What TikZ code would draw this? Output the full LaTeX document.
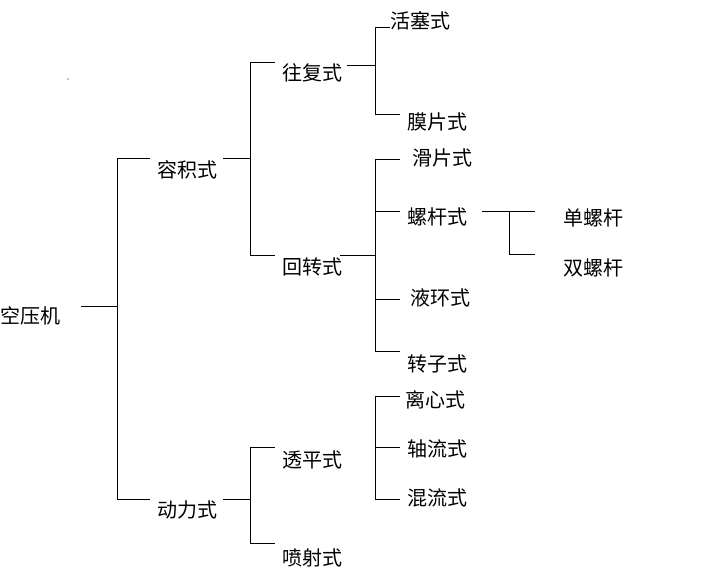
\documentclass[tikz,border=0pt]{standalone}
\usepackage{fontspec}
\newfontfamily\cjk{Noto Sans CJK SC}
\begin{document}
\begin{tikzpicture}[x=1pt,y=-1pt,
  lbl/.style={anchor=west,inner sep=0pt,font=\cjk\fontsize{20}{20}\selectfont},
  conn/.style={line width=0.9pt,black}]
\useasboundingbox (0,0) rectangle (715,581);
% labels
\node[lbl] (kyj) at (0,316) {空压机};
\node[lbl] (rjs) at (157,170) {容积式};
\node[lbl] (dls) at (157,510) {动力式};
\node[lbl] (wfs) at (282,73) {往复式};
\node[lbl] (hzs) at (282,267) {回转式};
\node[lbl] (tps) at (282,460) {透平式};
\node[lbl] (pss) at (282,558) {喷射式};
\node[lbl] (hss) at (390,21) {活塞式};
\node[lbl] (mps) at (407,122) {膜片式};
\node[lbl] (hps) at (412,158) {滑片式};
\node[lbl] (lgs) at (407,217) {螺杆式};
\node[lbl] (dlg) at (563,218) {单螺杆};
\node[lbl] (slg) at (563,268) {双螺杆};
\node[lbl] (yhs) at (410,298) {液环式};
\node[lbl] (zzs) at (407,364) {转子式};
\node[lbl] (lxs) at (405,400) {离心式};
\node[lbl] (zls) at (407,449) {轴流式};
\node[lbl] (hls) at (407,498) {混流式};
% junction coordinates
\coordinate (a0) at (81,306);
\coordinate (a1) at (117,306);
\coordinate (a1t) at (117,158);
\coordinate (a1b) at (117,499);
\coordinate (rjL) at (150,158);
\coordinate (dlL) at (150,499);
\coordinate (rjR) at (223,158);
\coordinate (b1) at (250,158);
\coordinate (b1t) at (250,62);
\coordinate (b1b) at (250,255);
\coordinate (wfL) at (275,62);
\coordinate (hzL) at (275,255);
\coordinate (wfR) at (347,65);
\coordinate (c1) at (375,65);
\coordinate (c1t) at (375,27);
\coordinate (c1b) at (375,114);
\coordinate (hsL) at (390,27);
\coordinate (mpL) at (400,114);
\coordinate (hzR) at (340,255);
\coordinate (c2) at (375,255);
\coordinate (c2t) at (375,159);
\coordinate (c2m) at (375,211);
\coordinate (c2n) at (375,299);
\coordinate (c2b) at (375,351);
\coordinate (hpL) at (400,159);
\coordinate (lgL) at (400,211);
\coordinate (yhL) at (400,299);
\coordinate (zzL) at (400,351);
\coordinate (lgR) at (482,211);
\coordinate (d1) at (509,211);
\coordinate (d1b) at (509,254);
\coordinate (dlgL) at (535,211);
\coordinate (slgL) at (535,254);
\coordinate (dlR) at (223,499);
\coordinate (b2) at (250,499);
\coordinate (b2t) at (250,447);
\coordinate (b2b) at (250,543);
\coordinate (tpL) at (275,447);
\coordinate (psL) at (275,543);
\coordinate (c3t) at (375,396);
\coordinate (c3m) at (375,447);
\coordinate (c3b) at (375,499);
\coordinate (lxL) at (400,396);
\coordinate (zlL) at (400,447);
\coordinate (hlL) at (400,499);
% connectors
\draw[conn] (a0) -- (a1);
\draw[conn] (rjL) -- (a1t) -- (a1b) -- (dlL);
\draw[conn] (rjR) -- (b1);
\draw[conn] (wfL) -- (b1t) -- (b1b) -- (hzL);
\draw[conn] (wfR) -- (c1);
\draw[conn] (hsL) -- (c1t) -- (c1b) -- (mpL);
\draw[conn] (hzR) -- (c2);
\draw[conn] (hpL) -- (c2t) -- (c2b) -- (zzL);
\draw[conn] (c2m) -- (lgL);
\draw[conn] (c2n) -- (yhL);
\draw[conn] (lgR) -- (dlgL);
\draw[conn] (d1) -- (d1b) -- (slgL);
\draw[conn] (dlR) -- (b2);
\draw[conn] (tpL) -- (b2t) -- (b2b) -- (psL);
\draw[conn] (lxL) -- (c3t) -- (c3b) -- (hlL);
\draw[conn] (c3m) -- (zlL);
\fill (68,79) circle (0.6);
\end{tikzpicture}
\end{document}
